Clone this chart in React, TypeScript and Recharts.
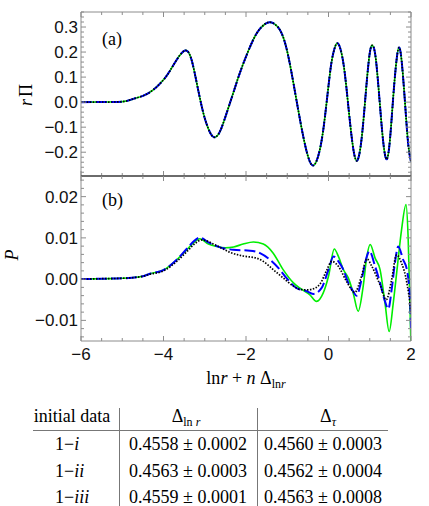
import React from "react";
import { LineChart, Line, XAxis, YAxis } from "recharts";

// panel (a): r*Pi, the three runs lie on top of each other
const xA = [
  -6, -5.5, -5, -4.75, -4.5, -4.25, -4, -3.84, -3.68, -3.48, -3.32, -3.16, -3.0, -2.85, -2.75,
  -2.63, -2.47, -2.31, -2.15, -1.95, -1.74, -1.54, -1.38, -1.18, -1.01, -0.85, -0.69, -0.53,
  -0.37, -0.21, -0.085, 0.036, 0.117, 0.22, 0.34, 0.44, 0.56, 0.68, 0.8, 0.91, 1.0, 1.07, 1.15,
  1.25, 1.33, 1.41, 1.49, 1.57, 1.65, 1.71, 1.77, 1.85, 1.93, 2.0,
];
const rPi = [
  0, 0.0005, 0.002, 0.012, 0.025, 0.049, 0.089, 0.126, 0.169, 0.206, 0.169, 0.049, -0.064, -0.128,
  -0.14, -0.117, -0.044, 0.036, 0.116, 0.202, 0.275, 0.312, 0.318, 0.289, 0.209, 0.076, -0.071,
  -0.197, -0.253, -0.19, -0.057, 0.116, 0.196, 0.235, 0.176, 0.049, -0.137, -0.234, -0.15, 0.049,
  0.196, 0.226, 0.169, -0.018, -0.164, -0.228, -0.15, 0.022, 0.169, 0.218, 0.17, 0.009, -0.164,
  -0.237,
];

// panel (b): P for the three runs
const xGreen = [
  -6, -5.5, -5, -4.5, -4.33, -4.0, -3.68, -3.44, -3.24, -3.12, -2.91, -2.71, -2.5, -2.3, -2.07,
  -1.82, -1.58, -1.34, -1.1, -0.85, -0.69, -0.45, -0.29, -0.13, 0.0, 0.14, 0.24, 0.36, 0.48, 0.6,
  0.72, 0.84, 0.93, 1.01, 1.13, 1.25, 1.37, 1.47, 1.57, 1.67, 1.77, 1.88, 1.93, 1.99, 2.0,
];
const pGreen = [
  0, 0.0001, 0.0002, 0.0007, 0.0013, 0.0022, 0.0047, 0.0071, 0.0091, 0.0098, 0.0085, 0.0079,
  0.0076, 0.0078, 0.0085, 0.009, 0.0085, 0.0063, 0.0023, -0.0009, -0.0022, -0.0038, -0.0054,
  -0.0034, 0.0007, 0.0073, 0.0055, 0.0023, 0.0003, -0.0034, -0.0078, -0.0018, 0.0055, 0.0084,
  0.0051, 0.0023, -0.0058, -0.0127, -0.0058, 0.0031, 0.0119, 0.0181, 0.0103, -0.0123, -0.016,
];
const xBlue = [
  -6, -5.5, -5, -4.5, -4.33, -4.0, -3.68, -3.44, -3.24, -3.12, -2.91, -2.71, -2.31, -1.9, -1.66,
  -1.42, -1.18, -1.02, -0.77, -0.53, -0.37, -0.17, 0.0, 0.12, 0.24, 0.36, 0.48, 0.6, 0.68, 0.8,
  0.93, 0.99, 1.13, 1.25, 1.37, 1.45, 1.53, 1.61, 1.69, 1.81, 1.9, 1.98, 2.0,
];
const pBlue = [
  0, 0.0001, 0.0002, 0.0007, 0.0013, 0.0022, 0.0047, 0.0073, 0.0094, 0.0101, 0.0089, 0.008,
  0.0071, 0.0069, 0.0063, 0.0047, 0.0023, 0.0003, -0.0022, -0.0029, -0.0036, -0.0022, 0.0023,
  0.0055, 0.0043, 0.0023, -0.0009, -0.003, -0.004, -0.0002, 0.0055, 0.0068, 0.0031, -0.0009,
  -0.0054, -0.0072, -0.0026, 0.0039, 0.0079, 0.0047, 0.0023, -0.0058, -0.0119,
];
const xBlack = [
  -6, -5.5, -5, -4.5, -4.33, -4.0, -3.68, -3.44, -3.24, -3.07, -2.71, -2.39, -2.07, -1.75, -1.58,
  -1.34, -1.1, -0.85, -0.69, -0.5, -0.33, -0.2, -0.05, 0.08, 0.24, 0.44, 0.64, 0.8, 0.93, 1.05,
  1.25, 1.4, 1.53, 1.65, 1.77, 1.9, 1.99, 2.0,
];
const pBlack = [
  0, 0.0001, 0.0002, 0.0007, 0.0012, 0.002, 0.0043, 0.0066, 0.0086, 0.0095, 0.0081, 0.0065,
  0.0056, 0.0051, 0.0043, 0.0023, 0.0003, -0.0017, -0.0025, -0.0026, -0.0022, -0.0011, 0.002,
  0.0043, 0.0031, -0.0006, -0.0032, 0.0007, 0.0049, 0.0031, -0.0014, -0.005, -0.0002, 0.0059,
  0.0039, -0.0009, -0.0074, -0.0085,
];

const xMajor = [-6, -4, -2, 0, 2];
const xLabels = ["\u22126", "\u22124", "\u22122", "0", "2"];
const aMajor = [-0.2, -0.1, 0, 0.1, 0.2, 0.3];
const aLabels = ["\u22120.2", "\u22120.1", "0.0", "0.1", "0.2", "0.3"];
const bMajor = [-0.01, 0, 0.01, 0.02];
const bLabels = ["\u22120.01", "0.00", "0.01", "0.02"];

const tableRows = ["1\u2212i", "1\u2212ii", "1\u2212iii"];
const tableLnr = ["0.4558 \u00b1 0.0002", "0.4563 \u00b1 0.0003", "0.4559 \u00b1 0.0001"];
const tableTau = ["0.4560 \u00b1 0.0003", "0.4562 \u00b1 0.0004", "0.4563 \u00b1 0.0008"];

const toPts = (xs: number[], ys: number[]) => xs.map((x, i) => ({ x, y: ys[i] }));

const steps = (from: number, to: number, step: number) => {
  const out: number[] = [];
  const n = Math.round((to - from) / step);
  for (let i = 0; i <= n; i++) out.push(Math.round((from + i * step) * 100000) / 100000);
  return out;
};

const FRAME = "#8c8c8c";
const MID = "#3a3a3a";
const SANS = "'Liberation Sans', Arial, sans-serif";
const SERIF = "'Liberation Serif', 'Times New Roman', serif";

// frame ticks drawn inward, Mathematica style
function makeTick(side: string, majors: number[], labels: string[] | null) {
  return (props: any) => {
    const { x, y, payload } = props;
    const v = payload.value;
    const idx = majors.findIndex((m) => Math.abs(m - v) < 1e-7);
    const len = idx >= 0 ? 5 : 3;
    let line;
    if (side === "bottom") line = <line x1={x} y1={y} x2={x} y2={y - len} />;
    else if (side === "top") line = <line x1={x} y1={y} x2={x} y2={y + len} />;
    else if (side === "left") line = <line x1={x} y1={y} x2={x + len} y2={y} />;
    else line = <line x1={x} y1={y} x2={x - len} y2={y} />;
    let label = null;
    if (labels && idx >= 0) {
      if (side === "bottom")
        label = (
          <text x={x} y={y + 19} textAnchor="middle" fill="#111" stroke="none" fontSize={17} fontFamily={SANS}>
            {labels[idx]}
          </text>
        );
      if (side === "left")
        label = (
          <text x={x - 3} y={y + 6} textAnchor="end" fill="#111" stroke="none" fontSize={17} fontFamily={SANS}>
            {labels[idx]}
          </text>
        );
    }
    return (
      <g stroke={FRAME} strokeWidth={1}>
        {line}
        {label}
      </g>
    );
  };
}

function Panel(props: {
  top: number;
  height: number;
  topH: number;
  bottomH: number;
  yDomain: [number, number];
  yTicks: number[];
  yMajor: number[];
  yLabels: string[];
  xLabelsOn: boolean;
  topColor: string;
  bottomColor: string;
  curve: "monotone" | "natural";
  green: { x: number; y: number }[];
  blue: { x: number; y: number }[];
  black: { x: number; y: number }[];
}) {
  const xt = steps(-6, 2, 0.5);
  return (
    <div style={{ position: "absolute", left: 0, top: props.top }}>
      <LineChart width={429} height={props.height} margin={{ top: 0, right: 0, bottom: 0, left: 0 }}>
        <XAxis
          xAxisId="b"
          dataKey="x"
          type="number"
          domain={[-6, 2]}
          allowDataOverflow
          orientation="bottom"
          height={props.bottomH}
          ticks={xt}
          interval={0}
          tickSize={0}
          tickMargin={0}
          tickLine={false}
          axisLine={{ stroke: props.bottomColor, strokeWidth: 1 }}
          tick={makeTick("bottom", xMajor, props.xLabelsOn ? xLabels : null)}
        />
        <XAxis
          xAxisId="t"
          dataKey="x"
          type="number"
          domain={[-6, 2]}
          allowDataOverflow
          orientation="top"
          height={props.topH}
          ticks={xt}
          interval={0}
          tickSize={0}
          tickMargin={0}
          tickLine={false}
          axisLine={{ stroke: props.topColor, strokeWidth: 1 }}
          tick={makeTick("top", xMajor, null)}
        />
        <YAxis
          yAxisId="l"
          type="number"
          domain={props.yDomain}
          allowDataOverflow
          orientation="left"
          width={81}
          ticks={props.yTicks}
          interval={0}
          tickSize={0}
          tickMargin={0}
          tickLine={false}
          axisLine={{ stroke: FRAME, strokeWidth: 1 }}
          tick={makeTick("left", props.yMajor, props.yLabels)}
        />
        <YAxis
          yAxisId="r"
          type="number"
          domain={props.yDomain}
          allowDataOverflow
          orientation="right"
          width={18}
          ticks={props.yTicks}
          interval={0}
          tickSize={0}
          tickMargin={0}
          tickLine={false}
          axisLine={{ stroke: FRAME, strokeWidth: 1 }}
          tick={makeTick("right", props.yMajor, null)}
        />
        <Line
          xAxisId="b"
          yAxisId="l"
          data={props.green}
          dataKey="y"
          type={props.curve}
          stroke="#00ee00"
          strokeWidth={1.6}
          dot={false}
          isAnimationActive={false}
        />
        <Line
          xAxisId="b"
          yAxisId="l"
          data={props.blue}
          dataKey="y"
          type={props.curve}
          stroke="#0000ff"
          strokeWidth={2}
          strokeDasharray="11 4"
          dot={false}
          isAnimationActive={false}
        />
        <Line
          xAxisId="b"
          yAxisId="l"
          data={props.black}
          dataKey="y"
          type={props.curve}
          stroke="#000000"
          strokeWidth={1.7}
          strokeDasharray="1.5 1.5"
          dot={false}
          isAnimationActive={false}
        />
      </LineChart>
    </div>
  );
}

export default function App() {
  const a = toPts(xA, rPi);
  return (
    <div style={{ position: "absolute", left: 0, top: 0, width: 429, height: 506, background: "#fff" }}>
      <Panel
        top={0}
        height={180}
        topH={12}
        bottomH={4}
        yDomain={[-0.295, 0.36]}
        yTicks={steps(-0.28, 0.36, 0.02)}
        yMajor={aMajor}
        yLabels={aLabels}
        xLabelsOn={false}
        topColor={FRAME}
        bottomColor={MID}
        curve="natural"
        green={a}
        blue={a}
        black={a}
      />
      <Panel
        top={170}
        height={230}
        topH={6}
        bottomH={59}
        yDomain={[-0.015, 0.025]}
        yTicks={steps(-0.014, 0.024, 0.002)}
        yMajor={bMajor}
        yLabels={bLabels}
        xLabelsOn={true}
        topColor={MID}
        bottomColor={FRAME}
        curve="monotone"
        green={toPts(xGreen, pGreen)}
        blue={toPts(xBlue, pBlue)}
        black={toPts(xBlack, pBlack)}
      />
      <svg
        width={429}
        height={506}
        style={{ position: "absolute", left: 0, top: 0, pointerEvents: "none" }}
        fontFamily={SERIF}
      >
        <text x={102} y={45} fontSize={18}>(a)</text>
        <text x={102} y={206} fontSize={18}>(b)</text>
        <text transform="translate(32,95) rotate(-90)" textAnchor="middle" fontSize={18}>
          <tspan fontStyle="italic">r</tspan>
          <tspan dx={2}>{"\u03a0"}</tspan>
        </text>
        <text transform="translate(18,255) rotate(-90)" textAnchor="middle" fontSize={18} fontStyle="italic">
          P
        </text>
        <text x={246} y={384} textAnchor="middle" fontSize={18}>
          ln<tspan fontStyle="italic">r</tspan>
          {" + "}
          <tspan fontStyle="italic">n</tspan>
          {" \u0394"}
          <tspan dy={4} fontSize={12}>ln</tspan>
          <tspan fontSize={12} fontStyle="italic">r</tspan>
        </text>

        {/* table */}
        <line x1={33} y1={430.5} x2={388} y2={430.5} stroke="#777" strokeWidth={1} />
        <line x1={119.5} y1={408} x2={119.5} y2={506} stroke="#777" strokeWidth={1} />
        <line x1={257.5} y1={408} x2={257.5} y2={506} stroke="#777" strokeWidth={1} />
        <text x={72} y={421.5} textAnchor="middle" fontSize={18}>initial data</text>
        <text x={186} y={421.5} textAnchor="middle" fontSize={18}>
          {"\u0394"}
          <tspan dy={4} fontSize={12}>ln </tspan>
          <tspan fontSize={12} fontStyle="italic">r</tspan>
        </text>
        <text x={328} y={421.5} textAnchor="middle" fontSize={18}>
          {"\u0394"}
          <tspan dy={4} fontSize={12} fontStyle="italic">{"\u03c4"}</tspan>
        </text>
        {tableRows.map((r, i) => (
          <text key={r} x={55} y={450 + i * 26.6} fontSize={18}>
            1{"\u2212"}
            <tspan fontStyle="italic">{r.slice(2)}</tspan>
          </text>
        ))}
        {tableLnr.map((s, i) => (
          <text key={"l" + i} x={188} y={450 + i * 26.6} textAnchor="middle" fontSize={18}>
            {s}
          </text>
        ))}
        {tableTau.map((s, i) => (
          <text key={"t" + i} x={323} y={450 + i * 26.6} textAnchor="middle" fontSize={18}>
            {s}
          </text>
        ))}
      </svg>
    </div>
  );
}
